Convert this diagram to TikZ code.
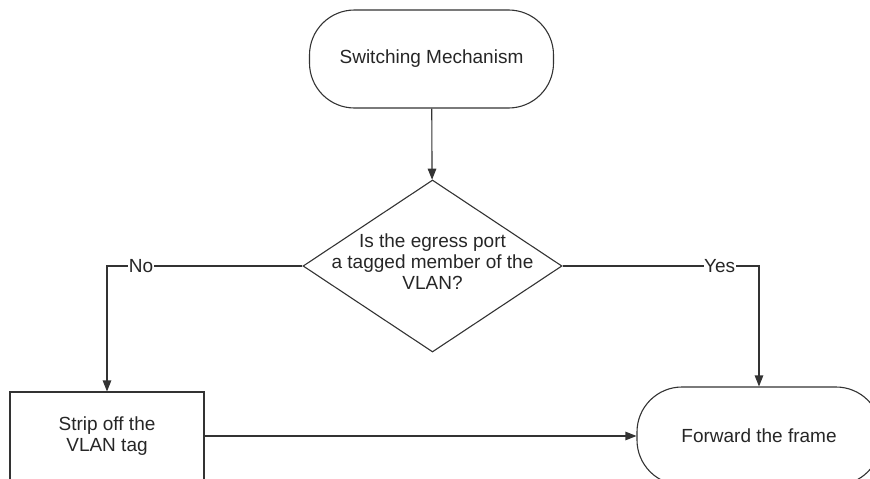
\documentclass[tikz,border=0pt]{standalone}
\usepackage{fontspec}
\setmainfont{Liberation Sans}
\usetikzlibrary{shapes.geometric,arrows.meta}
\begin{document}
\begin{tikzpicture}[x=1pt,y=-1pt,
  every node/.style={font=\fontsize{19}{21}\selectfont, text=black!85},
  outline/.style={draw=black!80, line width=1.1pt},
  flow/.style={outline, -{Triangle[length=11pt,width=8.5pt]}},
  terminal/.style={outline, rectangle, rounded corners=45pt,
    minimum width=244pt, minimum height=98pt, inner sep=0pt},
  process/.style={outline, rectangle, minimum width=194pt,
    minimum height=88pt, inner sep=0pt, align=center},
  decision/.style={outline, diamond, minimum width=259pt,
    minimum height=172pt, inner sep=0pt},
  lbl/.style={fill=white, inner sep=0.5pt}
]
\useasboundingbox (0,0) rectangle (870,479);
\clip (0,0) rectangle (870,479);

% shapes
\node[terminal] (start) at (431.5,59) {Switching Mechanism};
\node[decision] (dec) at (432.5,266) {};
\node[align=center] (dectext) at (432.5,262)
  {Is the egress port\\a tagged member of the\\VLAN?};
\node[process] (strip) at (107,436) {Strip off the\\VLAN tag};
\node[terminal] (fwd) at (759,436) {Forward the frame};

% connectors
\draw[flow] (start) -- (dec);
\draw[flow] (dec.west) -| node[lbl, pos=0.413] {No} (strip.north);
\draw[flow] (dec.east) -| node[lbl, pos=0.4] {Yes} (fwd.north);
\draw[flow] (strip) -- (fwd);
\end{tikzpicture}
\end{document}
